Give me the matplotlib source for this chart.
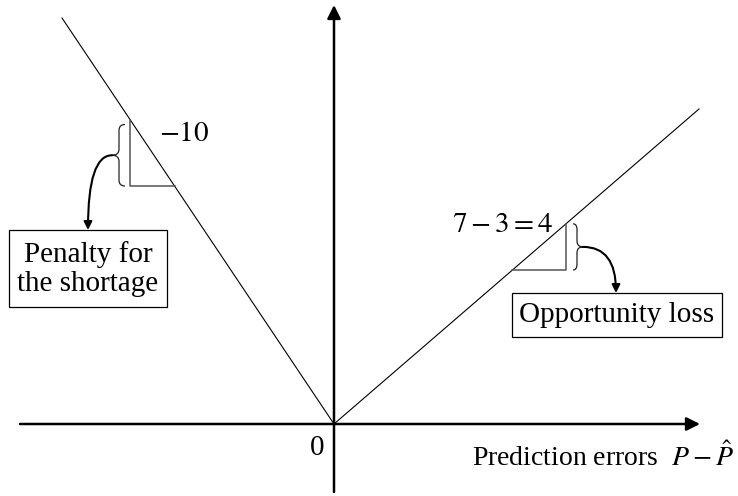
import matplotlib
matplotlib.use("Agg")
import matplotlib.pyplot as plt
from matplotlib.path import Path
from matplotlib.patches import PathPatch, FancyArrowPatch, Rectangle

# ── Data (units = pixels from origin, y up) ──────────────────────────────────
err_left   = [-272, 0]      # prediction error, shortage side
loss_left  = [406, 0]
err_right  = [0, 365]       # prediction error, surplus side
loss_right = [0, 315]

slope_left  = loss_left[0] / err_left[0]     # negative
slope_right = loss_right[1] / err_right[1]

tri_left_x, tri_left_ybot   = -204, 238
tri_right_x, tri_right_ybot = 232, 154

LABEL_LEFT   = "Penalty for\nthe shortage"
LABEL_RIGHT  = "Opportunity loss"
SLOPE_LEFT   = r"$-10$"
SLOPE_RIGHT  = r"$7-3=4$"
XLABEL       = r"Prediction errors  $P-\hat{P}$"

plt.rcParams["font.family"] = ["Liberation Serif", "DejaVu Serif"]
plt.rcParams["mathtext.fontset"] = "stix"

fig = plt.figure(figsize=(7.38, 4.96), dpi=100)
ax = fig.add_axes([0, 0, 1, 1])
ax.set_xlim(-334, 404)
ax.set_ylim(-72, 424)
ax.axis("off")


def brace(ax, xe, xs, xt, y0, y1, r=6):
    """Curly brace between y0 and y1, ends at xe, spine at xs, tip at xt."""
    ym = (y0 + y1) / 2
    verts = [(xe, y1), (xs, y1), (xs, y1 - r),
             (xs, ym + r),
             (xs, ym), (xt, ym),
             (xs, ym), (xs, ym - r),
             (xs, y0 + r),
             (xs, y0), (xe, y0)]
    codes = [Path.MOVETO, Path.CURVE3, Path.CURVE3,
             Path.LINETO,
             Path.CURVE3, Path.CURVE3,
             Path.CURVE3, Path.CURVE3,
             Path.LINETO,
             Path.CURVE3, Path.CURVE3]
    ax.add_patch(PathPatch(Path(verts, codes), fill=False, lw=0.9,
                           edgecolor="#222222"))
    return xt, ym


# ── Axes with arrows ──────────────────────────────────────────────────────────
ax.add_patch(FancyArrowPatch((-314, 0), (366, 0), arrowstyle="-|>",
                             mutation_scale=20, lw=1.8, color="black",
                             shrinkA=0, shrinkB=0))
ax.add_patch(FancyArrowPatch((0, -68), (0, 419), arrowstyle="-|>",
                             mutation_scale=20, lw=1.8, color="black",
                             shrinkA=0, shrinkB=0))

# ── Loss lines ────────────────────────────────────────────────────────────────
ax.plot(err_left, loss_left, color="black", lw=0.8)
ax.plot(err_right, loss_right, color="black", lw=0.8)

# ── Slope triangles ───────────────────────────────────────────────────────────
ytop_l = slope_left * tri_left_x
xend_l = tri_left_ybot / slope_left
ax.plot([tri_left_x, tri_left_x, xend_l], [ytop_l, tri_left_ybot, tri_left_ybot],
        color="#555555", lw=1.1)

ytop_r = slope_right * tri_right_x
xend_r = tri_right_ybot / slope_right
ax.plot([xend_r, tri_right_x, tri_right_x], [tri_right_ybot, tri_right_ybot, ytop_r],
        color="#555555", lw=1.1)

# ── Braces and curved arrows ──────────────────────────────────────────────────
tip_l = brace(ax, -209, -215, -222, tri_left_ybot, ytop_l - 5)
tip_r = brace(ax, 239, 243, 249, tri_right_ybot, ytop_r)

ax.add_patch(FancyArrowPatch(tip_l, (-246, 194), arrowstyle="-|>",
                             connectionstyle="angle3,angleA=180,angleB=90",
                             mutation_scale=12, lw=1.5, color="black",
                             shrinkA=0, shrinkB=0))
ax.add_patch(FancyArrowPatch(tip_r, (282, 131), arrowstyle="-|>",
                             connectionstyle="angle3,angleA=0,angleB=90",
                             mutation_scale=12, lw=1.5, color="black",
                             shrinkA=0, shrinkB=0))

# ── Label boxes ───────────────────────────────────────────────────────────────
ax.add_patch(Rectangle((-325, 117), 158, 77, fill=False, lw=0.9, edgecolor="black"))
ax.text(-246, 155, LABEL_LEFT, ha="center", va="center", fontsize=21,
        linespacing=1.15)
ax.add_patch(Rectangle((178, 87), 210, 44, fill=False, lw=0.9, edgecolor="black"))
ax.text(283, 109, LABEL_RIGHT, ha="center", va="center", fontsize=21)

# ── Text annotations ──────────────────────────────────────────────────────────
ax.text(-175, 290, SLOPE_LEFT, ha="left", va="center", fontsize=21)
ax.text(169, 199, SLOPE_RIGHT, ha="center", va="center", fontsize=21)
ax.text(-17, -24, "0", ha="center", va="center", fontsize=21)
ax.text(400, -42, XLABEL, ha="right", va="baseline", fontsize=20)

fig.savefig("out.png", dpi=100)
